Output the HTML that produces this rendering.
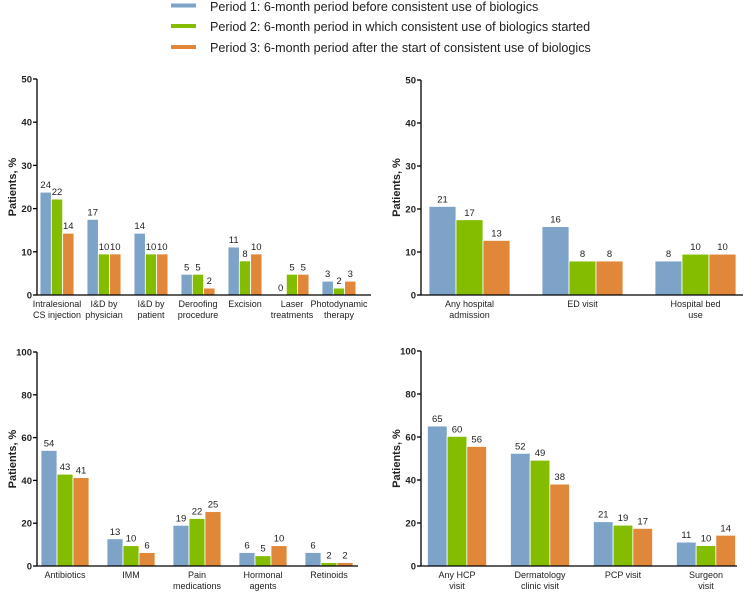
<!DOCTYPE html>
<html><head><meta charset="utf-8"><style>
html,body{margin:0;padding:0;background:#fff;}
svg{display:block;font-family:"Liberation Sans",Arial,sans-serif;}
</style></head><body>
<svg id="c" width="746" height="592" viewBox="0 0 746 592">
<g>
 <rect x="171" y="3.5" width="25" height="4" fill="#7ea3c9"/>
 <text x="210" y="11" font-size="12.6" fill="#222">Period 1: 6-month period before consistent use of biologics</text>
 <rect x="171" y="24" width="25" height="4" fill="#84bd00"/>
 <text x="210" y="31" font-size="12.6" fill="#222">Period 2: 6-month period in which consistent use of biologics started</text>
 <rect x="171" y="45" width="25" height="4" fill="#e0873a"/>
 <text x="210" y="52" font-size="12.6" fill="#222">Period 3: 6-month period after the start of consistent use of biologics</text>
</g>
</svg>
<script>
// Panel A: procedures
const catsA = [["Intralesional","CS injection"],["I&D by","physician"],["I&D by","patient"],["Deroofing","procedure"],["Excision"],["Laser","treatments"],["Photodynamic","therapy"]];
const p1A = [23.8,17.5,14.3,4.8,11.1,0,3.2];
const p2A = [22.2,9.5,9.5,4.8,7.9,4.8,1.6];
const p3A = [14.3,9.5,9.5,1.6,9.5,4.8,3.2];
const lab1A = ["24","17","14","5","11","0","3"];
const lab2A = ["22","10","10","5","8","5","2"];
const lab3A = ["14","10","10","2","10","5","3"];
const ticksA = [0,10,20,30,40,50];
// Panel B: hospital
const catsB = [["Any hospital","admission"],["ED visit"],["Hospital bed","use"]];
const p1B = [20.6,15.9,7.9];
const p2B = [17.5,7.9,9.5];
const p3B = [12.7,7.9,9.5];
const lab1B = ["21","16","8"];
const lab2B = ["17","8","10"];
const lab3B = ["13","8","10"];
const ticksB = [0,10,20,30,40,50];
// Panel C: medications
const catsC = [["Antibiotics"],["IMM"],["Pain","medications"],["Hormonal","agents"],["Retinoids"]];
const p1C = [54,12.7,19,6.3,6.3];
const p2C = [42.9,9.5,22.2,4.8,1.6];
const p3C = [41.3,6.3,25.4,9.5,1.6];
const lab1C = ["54","13","19","6","6"];
const lab2C = ["43","10","22","5","2"];
const lab3C = ["41","6","25","10","2"];
const ticksC = [0,20,40,60,80,100];
// Panel D: visits
const catsD = [["Any HCP","visit"],["Dermatology","clinic visit"],["PCP visit"],["Surgeon","visit"]];
const p1D = [65.1,52.4,20.6,11.1];
const p2D = [60.3,49.2,19,9.5];
const p3D = [55.6,38.1,17.5,14.3];
const lab1D = ["65","52","21","11"];
const lab2D = ["60","49","19","10"];
const lab3D = ["56","38","17","14"];
const ticksD = [0,20,40,60,80,100];

const NS="http://www.w3.org/2000/svg";
const svg=document.getElementById('c');
const colors=["#7ea3c9","#84bd00","#e0873a"];
function mk(tag,attrs,parent){const e=document.createElementNS(NS,tag);for(const k in attrs)e.setAttribute(k,attrs[k]);parent.appendChild(e);return e;}

function panel(id,cfg,cats,series,labels,ticks){
 const g=mk('g',{},svg);
 
 
 const max=ticks[ticks.length-1];
 const y=v=>cfg.y0-(v/max)*(cfg.y0-cfg.yTop);
 const xc=i=>cfg.c0+i*cfg.pitch;
 const ax=mk('line',{x1:cfg.ax,x2:cfg.ax,y1:cfg.yTop,y2:cfg.y0,stroke:'#000','stroke-width':1.3},g);
 
 
 ticks.forEach(t=>{
  const tl=mk('line',{x1:cfg.ax-4,x2:cfg.ax,y1:y(t),y2:y(t),stroke:'#000','stroke-width':1.3},g);
  
  
  const tx=mk('text',{x:cfg.ax-5,y:y(t)+3.5,'text-anchor':'end','font-size':9.5,'font-weight':'bold',fill:'#222'},g);
  tx.textContent=t;
  
  
 });
 const yt=mk('text',{x:0,y:0,'text-anchor':'middle','font-size':11,'font-weight':'bold',fill:'#222',transform:`translate(${cfg.ax-21},${(cfg.y0+cfg.yTop)/2}) rotate(-90)`},g);
 yt.textContent='Patients, %';
 
 
 cats.forEach((c,i)=>{
  series.forEach((s,k)=>{
   const x=xc(i)-1.5*cfg.bw+k*cfg.bw;
   const r=mk('rect',{x:x,y:y(s[i]),width:cfg.bw,height:Math.max(0,cfg.y0-y(s[i])),fill:colors[k],stroke:'#fff','stroke-width':0.8},g);
   
   
   const lt=mk('text',{x:x+cfg.bw/2,y:y(s[i])-4,'text-anchor':'middle','font-size':9.5,fill:'#222'},g);
   lt.textContent=labels[k][i];
   
   
  });
  c.forEach((line,j)=>{
   const ct=mk('text',{x:xc(i),y:cfg.y0+12+j*11,'text-anchor':'middle','font-size':9,fill:'#222'},g);
   ct.textContent=line;
   
   
  });
 });
 const xa=mk('line',{x1:cfg.ax,x2:cfg.xEnd,y1:cfg.y0,y2:cfg.y0,stroke:'#000','stroke-width':1.3},g);
 
 
}
panel('procedures-panel',{ax:37,yTop:79,y0:295,c0:57,pitch:47,bw:11.3,xEnd:371},catsA,[p1A,p2A,p3A],[lab1A,lab2A,lab3A],ticksA);
panel('hospital-panel',{ax:421,yTop:80,y0:295,c0:469.5,pitch:113,bw:27,xEnd:743},catsB,[p1B,p2B,p3B],[lab1B,lab2B,lab3B],ticksB);
panel('medications-panel',{ax:37,yTop:352,y0:566,c0:65,pitch:66,bw:16,xEnd:358},catsC,[p1C,p2C,p3C],[lab1C,lab2C,lab3C],ticksC);
panel('visits-panel',{ax:421,yTop:351,y0:566,c0:457,pitch:83,bw:19.7,xEnd:737},catsD,[p1D,p2D,p3D],[lab1D,lab2D,lab3D],ticksD);
</script>
</body></html>
